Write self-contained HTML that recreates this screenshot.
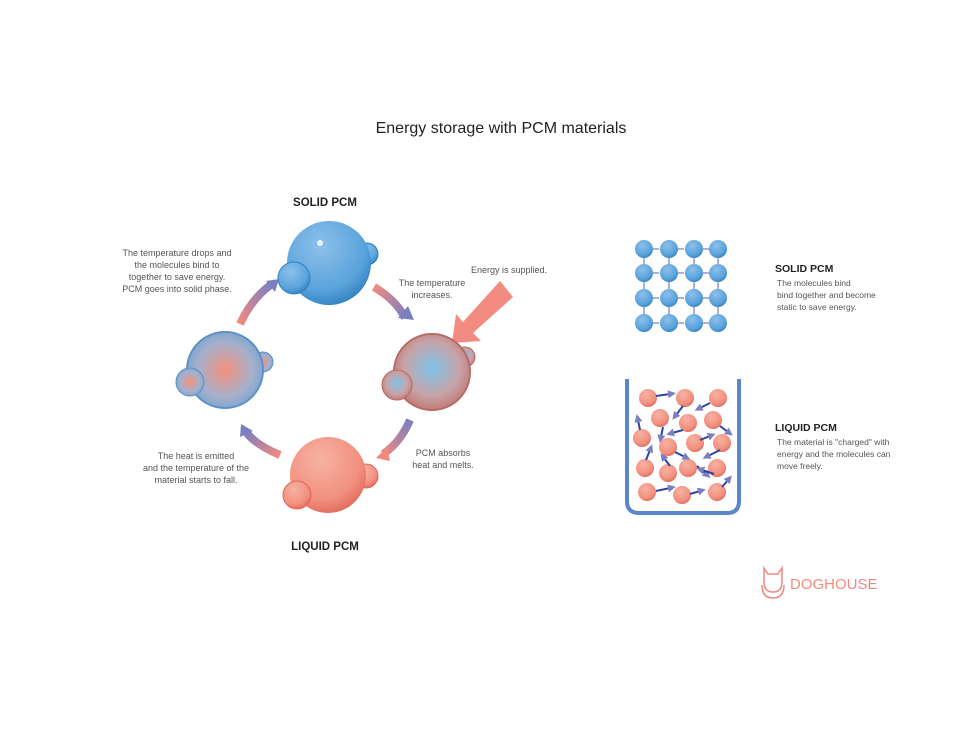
<!DOCTYPE html>
<html><head><meta charset="utf-8"><style>
html,body{margin:0;padding:0;background:#fff;width:973px;height:730px;overflow:hidden}
svg{display:block}
text{font-family:"Liberation Sans",sans-serif}
.t{font-size:9px;fill:#555}
.h{font-size:11.5px;font-weight:bold;fill:#222}
</style></head><body>
<svg width="973" height="730" viewBox="0 0 973 730" xmlns="http://www.w3.org/2000/svg">
<defs>
<radialGradient id="blue" cx="40%" cy="30%" r="75%"><stop offset="0" stop-color="#8dc0ea"/><stop offset="0.7" stop-color="#5aa3dc"/><stop offset="1" stop-color="#2f7fc0"/></radialGradient>
<radialGradient id="red" cx="40%" cy="30%" r="75%"><stop offset="0" stop-color="#f7b2a3"/><stop offset="0.7" stop-color="#f2907f"/><stop offset="1" stop-color="#e0675a"/></radialGradient>
<radialGradient id="bmix" cx="50%" cy="50%" r="60%"><stop offset="0" stop-color="#f4907c"/><stop offset="0.6" stop-color="#a6b0cc"/><stop offset="1" stop-color="#6d9fcf"/></radialGradient>
<radialGradient id="rmix" cx="50%" cy="45%" r="60%"><stop offset="0" stop-color="#7fc3ea"/><stop offset="0.6" stop-color="#c7a3a8"/><stop offset="1" stop-color="#c0736c"/></radialGradient>
<linearGradient id="arr1" x1="0" y1="1" x2="1" y2="0"><stop offset="0" stop-color="#f08a80"/><stop offset="1" stop-color="#7b7fc0"/></linearGradient>
<linearGradient id="arr2" x1="0" y1="0" x2="1" y2="1"><stop offset="0" stop-color="#f08a80"/><stop offset="1" stop-color="#7b7fc0"/></linearGradient>
<linearGradient id="arr3" x1="1" y1="0" x2="0" y2="1"><stop offset="0" stop-color="#7b7fc0"/><stop offset="1" stop-color="#f08a80"/></linearGradient>
<linearGradient id="arr4" x1="1" y1="1" x2="0" y2="0"><stop offset="0" stop-color="#f08a80"/><stop offset="1" stop-color="#7b7fc0"/></linearGradient>
<marker id="ah1" markerWidth="4" markerHeight="4" refX="1" refY="2" orient="auto"><path d="M0,0 L4,2 L0,4z" fill="#7b7fc0"/></marker>
</defs>

<text x="501" y="133" text-anchor="middle" style="font-size:16px;fill:#222">Energy storage with PCM materials</text>
<text x="325" y="206" text-anchor="middle" class="h">SOLID PCM</text>
<text x="325" y="550" text-anchor="middle" class="h">LIQUID PCM</text>

<g class="t" text-anchor="middle">
<text x="177" y="256">The temperature drops and</text>
<text x="177" y="268">the molecules bind to</text>
<text x="177" y="280">together to save energy.</text>
<text x="177" y="292">PCM goes into solid phase.</text>
<text x="432" y="286">The temperature</text>
<text x="432" y="298">increases.</text>
<text x="509" y="273">Energy is supplied.</text>
<text x="443" y="456">PCM absorbs</text>
<text x="443" y="468">heat and melts.</text>
<text x="196" y="459">The heat is emitted</text>
<text x="196" y="471">and the temperature of the</text>
<text x="196" y="483">material starts to fall.</text>
</g>

<!-- cycle arrows -->
<path d="M240,324 Q252,298 272,284" stroke="url(#arr1)" stroke-width="8" fill="none"/>
<path d="M266,281 L279,279 L275,292z" fill="#7b7fc0"/>
<path d="M374,287 Q396,300 405,318" stroke="url(#arr2)" stroke-width="8" fill="none"/>
<path d="M398,318 L414,320 L408,306z" fill="#7b7fc0"/>
<path d="M410,420 Q400,443 383,454" stroke="url(#arr3)" stroke-width="8" fill="none"/>
<path d="M387,447 L376,458 L390,461z" fill="#f08a80"/>
<path d="M280,455 Q256,445 246,432" stroke="url(#arr4)" stroke-width="8" fill="none"/>
<path d="M240,437 L241,424 L253,431z" fill="#7b7fc0"/>

<!-- energy arrow -->
<path d="M500,281 L513,297 L473,333 L481,341 L452,343 L456,314 L463,322z" fill="#f28c82"/>

<!-- top solid -->
<circle cx="367" cy="254" r="11" fill="url(#blue)" stroke="#2f7fc0"/>
<circle cx="329" cy="263" r="42" fill="url(#blue)"/>
<circle cx="294" cy="278" r="16" fill="url(#blue)" stroke="#2f7fc0"/>
<circle cx="320" cy="243" r="3" fill="#fff" opacity=".8"/>
<!-- left -->
<circle cx="263" cy="362" r="10" fill="url(#bmix)" stroke="#5a92c8"/>
<circle cx="225" cy="370" r="38" fill="url(#bmix)" stroke="#5a92c8" stroke-width="2"/>
<circle cx="190" cy="382" r="14" fill="url(#bmix)" stroke="#5a92c8"/>
<!-- right -->
<circle cx="465" cy="357" r="10" fill="url(#rmix)" stroke="#b86a64"/>
<circle cx="432" cy="372" r="38" fill="url(#rmix)" stroke="#b86a64" stroke-width="2"/>
<circle cx="397" cy="385" r="15" fill="url(#rmix)" stroke="#b86a64"/>
<!-- bottom -->
<circle cx="366" cy="476" r="12" fill="url(#red)" stroke="#e0675a"/>
<circle cx="328" cy="475" r="38" fill="url(#red)"/>
<circle cx="297" cy="495" r="14" fill="url(#red)" stroke="#e0675a"/>

<!-- solid grid -->
<g stroke="#5564b0" stroke-width="1" fill="none">
<path d="M653,249h6M678,249h6M703,249h6M653,273h6M678,273h6M703,273h6M653,298h6M678,298h6M703,298h6M653,323h6M678,323h6M703,323h6"/>
<path d="M644,258v6M669,258v6M694,258v6M718,258v6M644,282v7M669,282v7M694,282v7M718,282v7M644,307v7M669,307v7M694,307v7M718,307v7"/>
</g>
<g fill="url(#blue)">
<circle cx="644" cy="249" r="9"/><circle cx="669" cy="249" r="9"/><circle cx="694" cy="249" r="9"/><circle cx="718" cy="249" r="9"/>
<circle cx="644" cy="273" r="9"/><circle cx="669" cy="273" r="9"/><circle cx="694" cy="273" r="9"/><circle cx="718" cy="273" r="9"/>
<circle cx="644" cy="298" r="9"/><circle cx="669" cy="298" r="9"/><circle cx="694" cy="298" r="9"/><circle cx="718" cy="298" r="9"/>
<circle cx="644" cy="323" r="9"/><circle cx="669" cy="323" r="9"/><circle cx="694" cy="323" r="9"/><circle cx="718" cy="323" r="9"/>
</g>

<!-- container -->
<path d="M627,379 V501 Q627,513 639,513 H727 Q739,513 739,501 V379" stroke="#5b87c8" stroke-width="4" fill="none"/>
<g fill="url(#red)">
<circle cx="648" cy="398" r="9"/><circle cx="685" cy="398" r="9"/><circle cx="718" cy="398" r="9"/>
<circle cx="660" cy="418" r="9"/><circle cx="688" cy="423" r="9"/><circle cx="713" cy="420" r="9"/>
<circle cx="642" cy="438" r="9"/><circle cx="668" cy="447" r="9"/><circle cx="695" cy="443" r="9"/><circle cx="722" cy="443" r="9"/>
<circle cx="645" cy="468" r="9"/><circle cx="668" cy="473" r="9"/><circle cx="688" cy="468" r="9"/><circle cx="717" cy="468" r="9"/>
<circle cx="647" cy="492" r="9"/><circle cx="682" cy="495" r="9"/><circle cx="717" cy="492" r="9"/>
</g>
<g stroke="#2d45a0" stroke-width="2" fill="none" marker-end="url(#ah1)">
<path d="M656,396 L670,394"/><path d="M683,406 L676,415"/><path d="M710,403 L700,408"/>
<path d="M640,430 L638,420"/><path d="M663,427 L661,437"/><path d="M683,430 L672,433"/>
<path d="M720,426 L728,432"/><path d="M700,440 L710,436"/><path d="M720,450 L708,456"/>
<path d="M675,452 L685,457"/><path d="M646,460 L650,450"/><path d="M670,466 L664,458"/>
<path d="M697,466 L706,474"/><path d="M714,474 L702,470"/><path d="M656,491 L670,488"/>
<path d="M690,494 L700,491"/><path d="M722,487 L728,480"/>
</g>

<text x="775" y="272" class="h" style="font-size:10.5px">SOLID PCM</text>
<g class="t" style="font-size:8.5px">
<text x="777" y="286">The molecules bind</text>
<text x="777" y="298">bind together and become</text>
<text x="777" y="310">static to save energy.</text>
<text x="777" y="445">The material is "charged" with</text>
<text x="777" y="457">energy and the molecules can</text>
<text x="777" y="469">move freely.</text>
</g>
<text x="775" y="431" class="h" style="font-size:10.5px">LIQUID PCM</text>

<!-- logo -->
<g stroke="#f08a80" stroke-width="1.5" fill="none">
<path d="M764,568 L768,574 H778 L782,568 V582 Q782,592 773,592 Q764,592 764,582z"/>
<path d="M762,585 Q762,598 773,598 Q784,598 784,585"/>
</g>
<text x="790" y="589" style="font-size:15px;fill:#f08a80">DOGHOUSE</text>
</svg>
</body></html>
